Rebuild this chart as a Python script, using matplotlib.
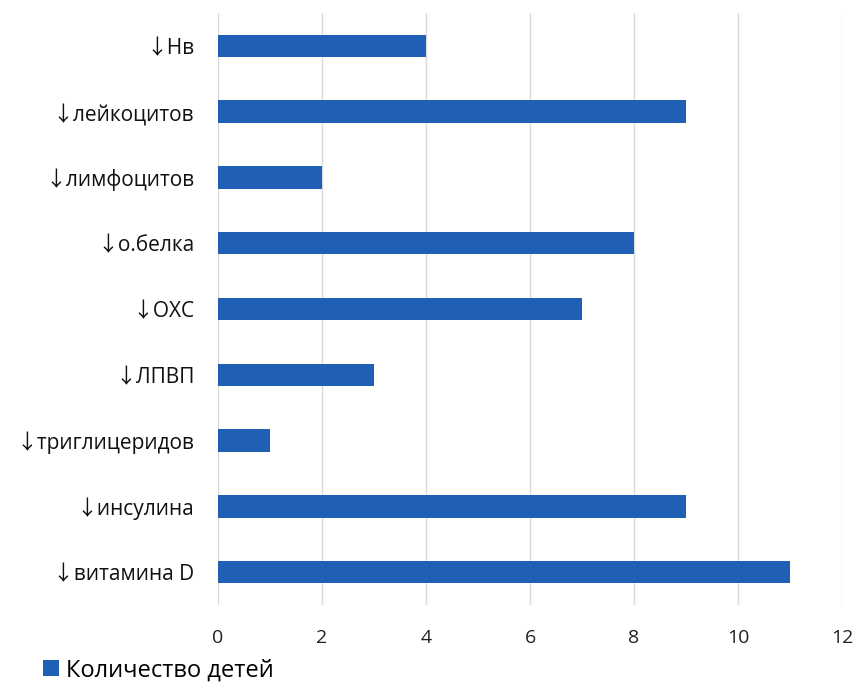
import matplotlib
matplotlib.use("Agg")
import matplotlib.pyplot as plt

categories = ["↓Нв", "↓лейкоцитов", "↓лимфоцитов", "↓о.белка", "↓ОХС",
              "↓ЛПВП", "↓триглицеридов", "↓инсулина", "↓витамина D"]
values = [4, 9, 2, 8, 7, 3, 1, 9, 11]
xticks = [0, 2, 4, 6, 8, 10, 12]
series_name = "Количество детей"

plt.rcParams['font.family'] = ['Open Sans', 'DejaVu Sans']

fig = plt.figure(figsize=(8.57, 6.98), dpi=100)
ax = fig.add_axes([0.2544, 0.1332, 0.7281, 0.8482])
color = "#1f60b4"
y = list(range(len(categories)))
ax.barh(y, values, height=0.34, color=color, label=series_name, zorder=3)
ax.set_ylim(len(categories) - 0.5, -0.5)
ax.set_xlim(0, 12)
ax.set_xticks(xticks)
ax.set_xticklabels([str(t) for t in xticks], fontsize=14, color="#222222")
ax.set_yticks(y)
ax.set_yticklabels(categories, fontsize=15, color="#111111",
                   family=['Open Sans', 'Noto Sans CJK SC', 'DejaVu Sans'])
ax.tick_params(length=0)
ax.tick_params(axis='x', pad=17)
ax.tick_params(axis='y', pad=17)
ax.grid(axis='x', color="#d9d9d9", linewidth=1, zorder=0)
for s in ax.spines.values():
    s.set_visible(False)

fig.legend(loc="lower left", bbox_to_anchor=(0.025, -0.008), frameon=False,
           fontsize=17, handlelength=0.7, handleheight=0.7, handletextpad=0.3)

fig.savefig("out.png", dpi=100)
